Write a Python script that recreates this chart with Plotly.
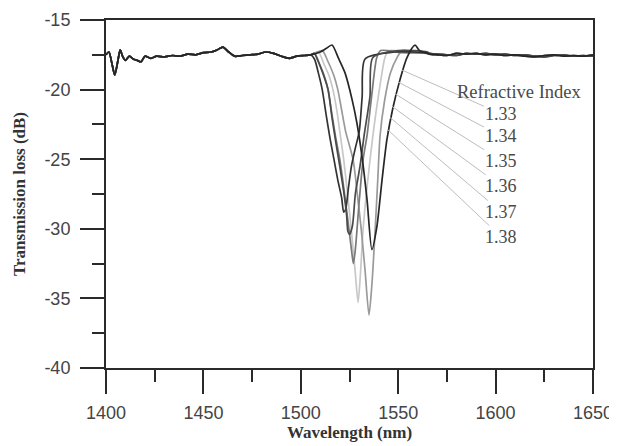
import plotly.graph_objects as go

# shared baseline of the spectrum (outside the dips)
base_wl = [1400, 1401.5, 1403, 1404.5, 1406, 1407.3, 1408.5, 1410, 1412, 1414, 1416, 1418, 1420,
           1423, 1426, 1430, 1434, 1438, 1442, 1446, 1450, 1454, 1457, 1460, 1463, 1466, 1470,
           1474, 1478, 1482, 1486, 1490, 1494, 1498, 1502,
           1566, 1570, 1575, 1580, 1585, 1590, 1595, 1600, 1605, 1610, 1615, 1620, 1625, 1630,
           1635, 1640, 1645, 1650]
base_db = [-17.5, -17.3, -18.1, -18.95, -18.0, -17.15, -17.6, -17.9, -17.6, -17.8, -17.9, -18.0, -17.6,
           -17.75, -17.6, -17.65, -17.55, -17.6, -17.45, -17.5, -17.35, -17.3, -17.15, -16.95, -17.3, -17.6, -17.55,
           -17.5, -17.45, -17.3, -17.4, -17.6, -17.75, -17.6, -17.55,
           -17.45, -17.5, -17.55, -17.4, -17.45, -17.4, -17.5, -17.45, -17.55, -17.5, -17.6, -17.65, -17.55, -17.5,
           -17.6, -17.55, -17.6, -17.5]

# resonance dips for each refractive index
dip_wl = {
    "1.33": [1505, 1510, 1513, 1516, 1519.5, 1522.7, 1526.3, 1528.8, 1531.4, 1534, 1536.5, 1539, 1541.7,
             1544.2, 1547.3, 1550.9, 1554.5, 1558.6, 1561, 1565],
    "1.34": [1505, 1511, 1514, 1517, 1519, 1521, 1523, 1526.8, 1529, 1531, 1533, 1535, 1536.5, 1538,
             1539.5, 1540.7, 1543, 1546, 1549.4, 1552, 1558, 1565],
    "1.35": [1505, 1509, 1512, 1514.5, 1516.5, 1518.5, 1520, 1522, 1524, 1526, 1528, 1529.4, 1530.5, 1532,
             1534, 1537, 1540, 1543.2, 1545, 1555, 1565],
    "1.36": [1505, 1507, 1510, 1512, 1514, 1516, 1518, 1520, 1522, 1524, 1526, 1527, 1528, 1530, 1532,
             1534, 1536.5, 1539, 1541, 1552, 1565],
    "1.37": [1505, 1507, 1509, 1511.5, 1514, 1516, 1518, 1520, 1522, 1523.5, 1524.2, 1525, 1526.5, 1528,
             1530.4, 1532.5, 1535.5, 1537, 1550, 1565],
    "1.38": [1503, 1505, 1507, 1509, 1511, 1513, 1515, 1517, 1519, 1521, 1522, 1523, 1524.5, 1526, 1528,
             1530, 1531.5, 1533, 1548, 1565],
}
dip_db = {
    "1.33": [-17.5, -17.3, -17.05, -16.8, -17.8, -18.8, -20.7, -22.4, -24.8, -27.9, -31.5, -29.9, -26.5,
             -23.6, -21.3, -19.3, -17.7, -16.8, -17.2, -17.4],
    "1.34": [-17.5, -17.2, -18.0, -19.0, -20.0, -21.5, -23.0, -25.0, -27.5, -30.0, -33.0, -36.2, -34.0, -30.5,
             -26.5, -23.3, -20.8, -18.8, -17.7, -17.2, -17.3, -17.4],
    "1.35": [-17.5, -17.3, -18.2, -19.0, -20.0, -21.5, -23.0, -25.0, -27.5, -30.2, -33.2, -35.3, -33.5, -30.0,
             -27.0, -23.3, -20.3, -17.7, -17.2, -17.3, -17.4],
    "1.36": [-17.5, -17.4, -18.3, -19.0, -20.0, -21.8, -23.5, -25.0, -27.0, -29.2, -31.5, -32.5, -31.5, -28.0,
             -25.0, -23.3, -20.3, -17.7, -17.2, -17.35, -17.4],
    "1.37": [-17.5, -17.4, -18.0, -18.9, -20.0, -22.0, -23.8, -25.5, -27.3, -29.0, -30.2, -30.4, -29.8, -27.5,
             -25.5, -23.3, -20.5, -17.7, -17.2, -17.3, -17.4],
    "1.38": [-17.55, -17.5, -17.8, -18.8, -20.0, -21.8, -23.5, -25.0, -26.5, -27.8, -28.8, -28.6, -27.0, -25.5,
             -24.2, -23.0, -20.5, -17.8, -17.3, -17.35, -17.4],
}
colors = {"1.33": "#262626", "1.34": "#9a9a9a", "1.35": "#c8c8c8",
          "1.36": "#7a7a7a", "1.37": "#4a4a4a", "1.38": "#333333"}

# label positions and where the pointer lines touch the curves
labels = ["1.33", "1.34", "1.35", "1.36", "1.37", "1.38"]
label_x = 1603
label_y = [-21.75, -23.35, -25.1, -26.95, -28.8, -30.6]
point_x = [1552.0, 1549.9, 1548.4, 1546.8, 1545.8, 1544.8]
point_y = [-18.6, -19.45, -20.3, -21.2, -22.0, -22.9]

x_ticks = [1400, 1450, 1500, 1550, 1600, 1650]
y_ticks = [-40, -35, -30, -25, -20, -15]
y_tick_text = ["-40", "-35", "-30", "-25", "-20", "-15"]

fig = go.Figure()

for ri in ["1.35", "1.34", "1.36", "1.38", "1.37", "1.33"]:
    w0, w1 = dip_wl[ri][0], dip_wl[ri][-1]
    xs = [w for w in base_wl if w < w0] + dip_wl[ri] + [w for w in base_wl if w > w1]
    ys = ([d for w, d in zip(base_wl, base_db) if w < w0] + dip_db[ri]
          + [d for w, d in zip(base_wl, base_db) if w > w1])
    fig.add_trace(go.Scatter(x=xs, y=ys, mode="lines", name=ri,
                             line=dict(color=colors[ri], width=1.7, shape="spline", smoothing=0.7),
                             showlegend=False))

for lab, ly, px, py in zip(labels, label_y, point_x, point_y):
    fig.add_annotation(x=px, y=py, ax=label_x, ay=ly, axref="x", ayref="y",
                       text=lab, showarrow=True, arrowhead=0, arrowwidth=1,
                       arrowcolor="#bdbdbd", xanchor="center", yanchor="middle",
                       font=dict(family="Liberation Serif", size=18, color="#4a4a4a"))

fig.add_annotation(x=1612.5, y=-20.2, text="Refractive Index", showarrow=False,
                   font=dict(family="Liberation Serif", size=18.5, color="#4a4a4a"))

axis_style = dict(showline=True, linecolor="#2a2a2a", linewidth=2, mirror=True,
                  ticks="outside", ticklen=24, tickwidth=2, tickcolor="#2a2a2a",
                  showgrid=False, zeroline=False, automargin=False,
                  tickfont=dict(family="Liberation Sans", size=18, color="#444444"))

fig.update_xaxes(range=[1400, 1650], tickvals=x_ticks, ticklabelstandoff=3,
                 minor=dict(ticks="outside", ticklen=12, tickwidth=2, tickcolor="#2a2a2a", dtick=25),
                 title=dict(text="<b>Wavelength (nm)</b>", standoff=2,
                            font=dict(family="Liberation Serif", size=17, color="#333333")),
                 **axis_style)
fig.update_yaxes(range=[-40, -15], tickvals=y_ticks, ticktext=y_tick_text, ticklabelstandoff=6,
                 minor=dict(ticks="outside", ticklen=12, tickwidth=2, tickcolor="#2a2a2a", dtick=2.5),
                 title=dict(text="<b>Transmission loss (dB)</b>", standoff=14,
                            font=dict(family="Liberation Serif", size=17, color="#333333")),
                 **axis_style)

# the page puts the figure 8px in from the top-left corner, so the figure is 8px smaller
fig.update_layout(width=609, height=438, margin=dict(l=98, r=24, t=12, b=78),
                  plot_bgcolor="white", paper_bgcolor="white")

fig.write_html("out.html")
